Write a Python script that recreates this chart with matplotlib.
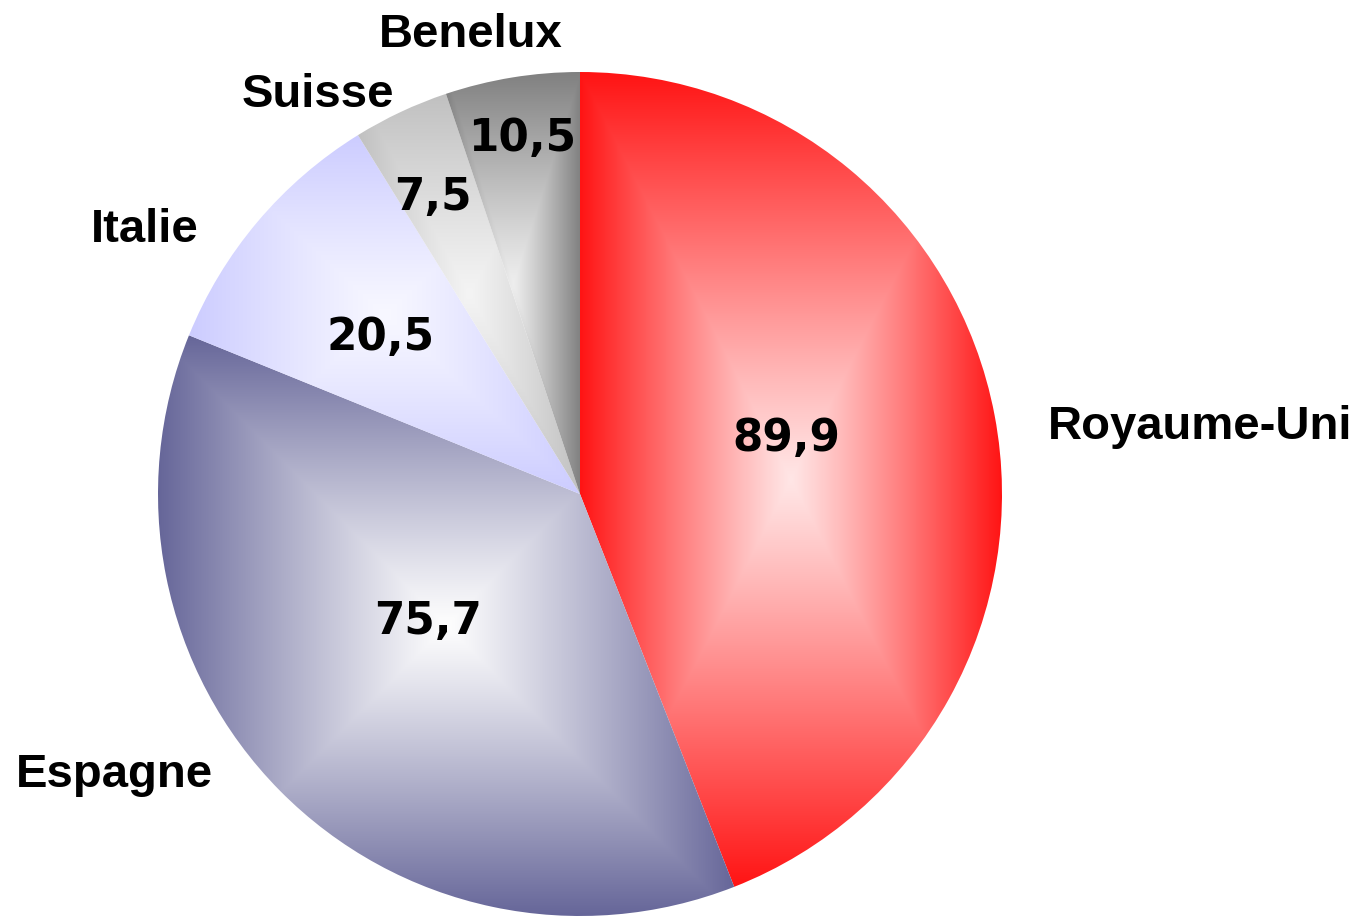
import matplotlib
matplotlib.use("Agg")
import matplotlib.pyplot as plt
import numpy as np

# data
pays = ["Royaume-Uni", "Espagne", "Italie", "Suisse", "Benelux"]
valeurs = [89.9, 75.7, 20.5, 7.5, 10.5]
etiquettes = ["89,9", "75,7", "20,5", "7,5", "10,5"]

# bord / centre du dégradé
bords = ["#ff1414", "#666699", "#ccccff", "#c0c0c0", "#808080"]
centres = ["#ffe6e6", "#fefefe", "#f8f8ff", "#f4f4f4", "#eeeeee"]

# positions des textes en pixels (x centre, ligne de base)
pos_noms = [(1200, 439), (114, 787), (145, 242), (318, 107), (471, 47)]
pos_vals = [(786, 451), (428, 634), (381, 350), (433, 210), (522, 151)]

W, H = 1361, 917
fig = plt.figure(figsize=(W / 100, H / 100), dpi=100)
ax = fig.add_axes([0, 0, 1, 1])

cx, cy, r = 580, 494, 422  # centre et rayon en pixels

wedges, _ = ax.pie(valeurs, startangle=90, counterclock=False, radius=1)
ax.set_aspect("equal")
ax.axis("off")


def hex2rgb(h):
    return np.array(matplotlib.colors.to_rgb(h))


n = 300
u = np.linspace(-1, 1, n)
U, V = np.meshgrid(u, u)
T = np.maximum(np.abs(U), np.abs(V)) ** 1.1

for w, b, c in zip(wedges, bords, centres):
    w.set_facecolor("none")
    w.set_edgecolor("none")
    ext = w.get_path().get_extents(w.get_patch_transform())
    cb, cc = hex2rgb(b), hex2rgb(c)
    img = cc[None, None, :] * (1 - T[..., None]) + cb[None, None, :] * T[..., None]
    im = ax.imshow(img, extent=(ext.x0, ext.x1, ext.y0, ext.y1), origin="lower",
                   interpolation="bilinear", zorder=1)
    im.set_clip_path(w)

ax.set_xlim(-cx / r, (W - cx) / r)
ax.set_ylim((cy - H) / r, cy / r)

for nom, (x, y) in zip(pays, pos_noms):
    fig.text(x / W, 1 - y / H, nom, ha="center", va="baseline",
             fontsize=34, fontweight="bold", family="Liberation Sans")

for lab, (x, y) in zip(etiquettes, pos_vals):
    fig.text(x / W, 1 - y / H, lab, ha="center", va="baseline",
             fontsize=31.5, fontweight="bold", family="DejaVu Sans")

fig.savefig("out.png", dpi=100)
